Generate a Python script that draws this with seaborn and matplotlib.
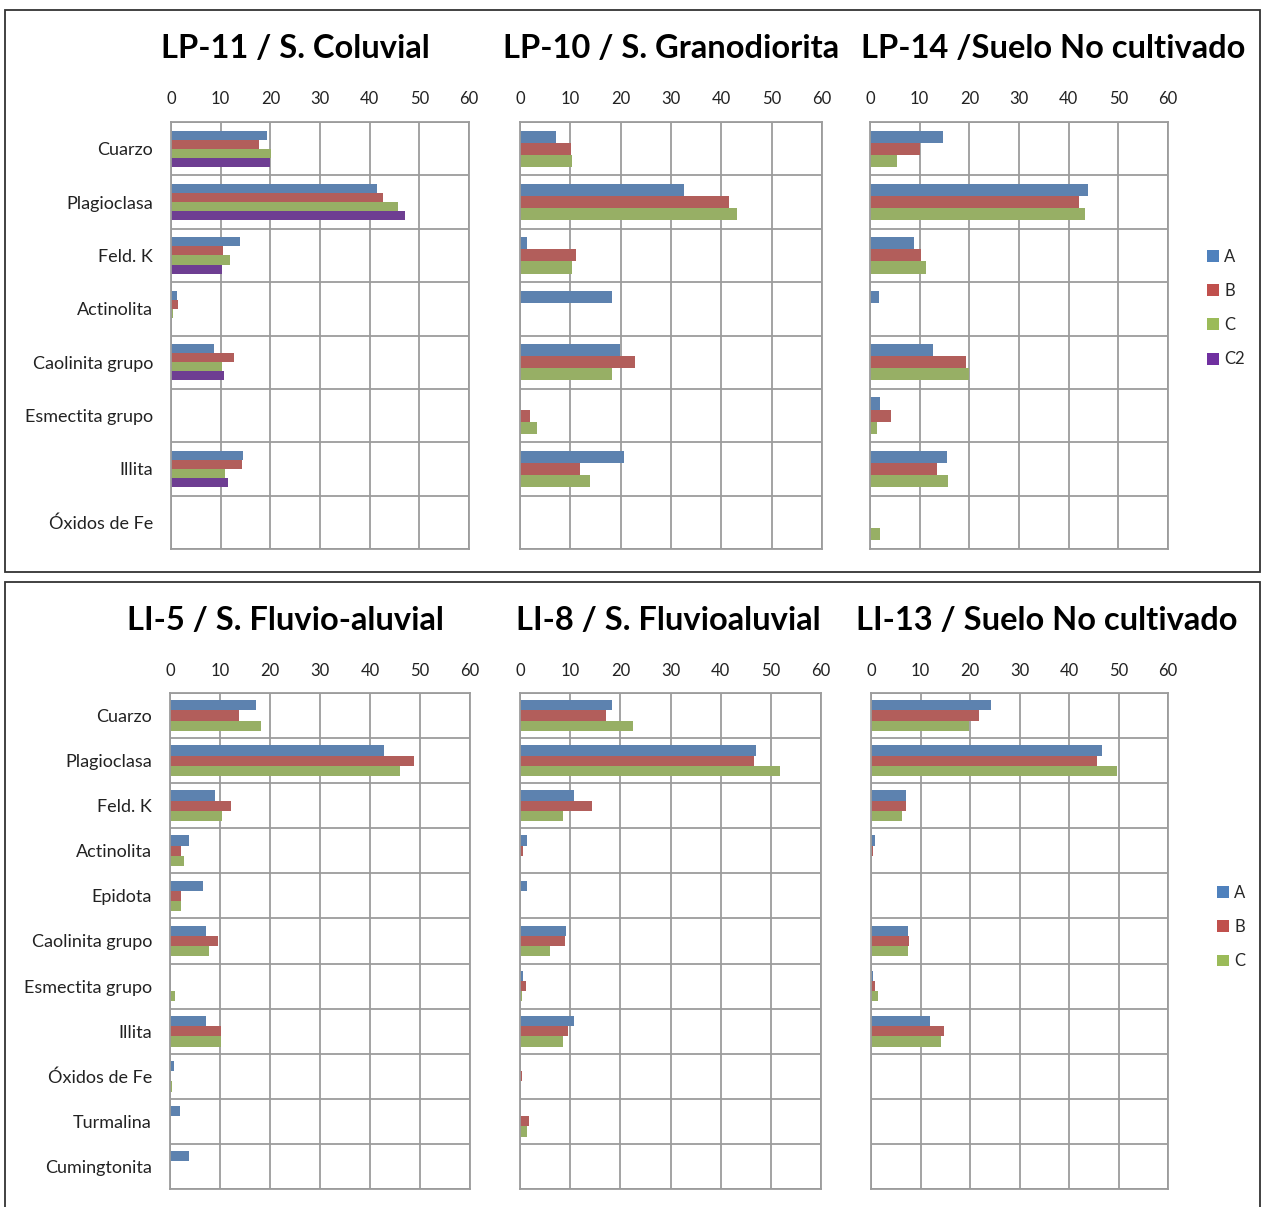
import numpy as np
import pandas as pd
import matplotlib.pyplot as plt
import seaborn as sns
from matplotlib.patches import Patch, Rectangle

# ======================
# Datos (% en peso)
# ======================
minerales_lp = ['Cuarzo', 'Plagioclasa', 'Feld. K', 'Actinolita',
                'Caolinita grupo', 'Esmectita grupo', 'Illita', 'Óxidos de Fe']
minerales_li = ['Cuarzo', 'Plagioclasa', 'Feld. K', 'Actinolita', 'Epidota',
                'Caolinita grupo', 'Esmectita grupo', 'Illita', 'Óxidos de Fe',
                'Turmalina', 'Cumingtonita']

# LP-11 / S. Coluvial
lp11_A = [19.3, 41.5, 13.9, 1.2, 8.7, 0, 14.5, 0]
lp11_B = [17.8, 42.7, 10.5, 1.5, 12.7, 0, 14.2, 0]
lp11_C = [20.2, 45.7, 11.8, 0.5, 10.3, 0, 10.9, 0]
lp11_C2 = [19.9, 47.2, 10.3, 0, 10.6, 0, 11.5, 0]

# LP-10 / S. Granodiorita
lp10_A = [7.1, 32.5, 1.3, 18.3, 19.9, 0, 20.7, 0]
lp10_B = [10.1, 41.6, 11.1, 0, 22.8, 1.9, 11.9, 0]
lp10_C = [10.4, 43.1, 10.4, 0, 18.3, 3.4, 14.0, 0]

# LP-14 / Suelo No cultivado
lp14_A = [14.6, 43.9, 8.8, 1.9, 12.7, 2.1, 15.5, 0]
lp14_B = [10.0, 42.1, 10.3, 0, 19.4, 4.3, 13.4, 0]
lp14_C = [5.5, 43.3, 11.3, 0, 19.9, 1.5, 15.8, 2.1]

# LI-5 / S. Fluvio-aluvial
li5_A = [17.1, 42.7, 8.9, 3.8, 6.5, 7.1, 0, 7.1, 0.7, 1.9, 3.8]
li5_B = [13.7, 48.8, 12.2, 2.2, 2.2, 9.5, 0, 10.1, 0, 0, 0]
li5_C = [18.2, 46.0, 10.4, 2.8, 2.2, 7.7, 1.0, 10.1, 0.4, 0, 0]

# LI-8 / S. Fluvioaluvial
li8_A = [18.3, 47.0, 10.7, 1.3, 1.3, 9.2, 0.5, 10.7, 0, 0, 0]
li8_B = [17.1, 46.7, 14.4, 0.5, 0, 8.9, 1.1, 9.5, 0.4, 1.7, 0]
li8_C = [22.5, 51.8, 8.6, 0, 0, 5.9, 0.4, 8.6, 0, 1.4, 0]

# LI-13 / Suelo No cultivado
li13_A = [24.3, 46.7, 7.1, 0.8, 0, 7.5, 0.4, 11.9, 0, 0, 0]
li13_B = [21.9, 45.7, 7.1, 0.5, 0, 7.7, 0.8, 14.7, 0, 0, 0]
li13_C = [19.8, 49.7, 6.3, 0, 0, 7.5, 1.4, 14.1, 0, 0, 0]

colores = {'A': '#4F81BD', 'B': '#C0504D', 'C': '#9BBB59', 'C2': '#7030A0'}
rejilla = '#9C9C9C'

sns.set_theme(style='white')
plt.rcParams['font.family'] = ['Lato', 'DejaVu Sans']

W, H = 1262, 1207
fig = plt.figure(figsize=(W / 100, H / 100), dpi=100)


def tabla(minerales, series):
    """Convierte las listas de cada horizonte en formato largo"""
    partes = []
    for nombre, valores in series.items():
        partes.append(pd.DataFrame({'mineral': minerales, 'valor': valores,
                                    'horizonte': nombre}))
    return pd.concat(partes, ignore_index=True)


def panel(px, titulo, minerales, series, mostrar_y, tcx, tcy, pad_x):
    x0, y0, x1, y1 = px
    ax = fig.add_axes([x0 / W, 1 - y1 / H, (x1 - x0) / W, (y1 - y0) / H])
    df = tabla(minerales, series)
    orden = list(series.keys())
    sns.barplot(data=df, x='valor', y='mineral', hue='horizonte', orient='h',
                order=minerales, hue_order=orden, width=0.68,
                palette=[colores[h] for h in orden], linewidth=0,
                legend=False, ax=ax)
    n = len(minerales)
    ax.set_xlim(0, 60)
    ax.set_ylim(n - 0.5, -0.5)
    ax.set_xticks(range(0, 61, 10))
    ax.set_yticks(np.arange(n + 1) - 0.5, minor=True)
    ax.xaxis.tick_top()
    ax.tick_params(axis='x', which='both', length=0, labelsize=12, pad=pad_x,
                   labelcolor='#222222')
    ax.tick_params(axis='y', which='both', length=0, labelsize=13, pad=13,
                   labelcolor='#222222')
    ax.grid(True, axis='x', which='major', color=rejilla, linewidth=1.3)
    ax.grid(True, axis='y', which='minor', color=rejilla, linewidth=1.3)
    ax.grid(False, axis='y', which='major')
    ax.set_axisbelow(True)
    for s in ax.spines.values():
        s.set_color(rejilla)
        s.set_linewidth(1.3)
    ax.set_xlabel('')
    ax.set_ylabel('')
    if not mostrar_y:
        ax.set_yticklabels([])
    fig.text(tcx / W, 1 - tcy / H, titulo, ha='center', va='center',
             fontsize=23.5, fontweight='bold', color='black')
    return ax


# ======================
# Paneles superiores (LP)
# ======================
panel((171, 122, 469, 549), 'LP-11 / S. Coluvial', minerales_lp,
      {'A': lp11_A, 'B': lp11_B, 'C': lp11_C, 'C2': lp11_C2}, True, 295, 49, 11)
panel((520, 122, 822, 549), 'LP-10 / S. Granodiorita', minerales_lp,
      {'A': lp10_A, 'B': lp10_B, 'C': lp10_C}, False, 671, 49, 11)
panel((870, 122, 1168, 549), 'LP-14 /Suelo No cultivado', minerales_lp,
      {'A': lp14_A, 'B': lp14_B, 'C': lp14_C}, False, 1053, 49, 11)

# ======================
# Paneles inferiores (LI)
# ======================
panel((170, 693, 470, 1189), 'LI-5 / S. Fluvio-aluvial', minerales_li,
      {'A': li5_A, 'B': li5_B, 'C': li5_C}, True, 285, 621, 10)
panel((520, 693, 821, 1189), 'LI-8 / S. Fluvioaluvial', minerales_li,
      {'A': li8_A, 'B': li8_B, 'C': li8_C}, False, 668, 621, 10)
panel((871, 693, 1168, 1189), 'LI-13 / Suelo No cultivado', minerales_li,
      {'A': li13_A, 'B': li13_B, 'C': li13_C}, False, 1047, 621, 10)

# Leyendas
def leyenda(etiquetas, x, y):
    manejos = [Patch(facecolor=colores[e], edgecolor='none') for e in etiquetas]
    fig.legend(manejos, etiquetas, loc='center left',
               bbox_to_anchor=(x / W, 1 - y / H), frameon=False, fontsize=12,
               handlelength=0.7, handleheight=0.7, handletextpad=0.3,
               labelspacing=1.1, borderpad=0)

leyenda(['A', 'B', 'C', 'C2'], 1199, 308)
leyenda(['A', 'B', 'C'], 1209, 927)

# Marcos de cada bloque
fig.patches.append(Rectangle((5 / W, 1 - 572 / H), 1255 / W, 562 / H,
                             transform=fig.transFigure, fill=False,
                             edgecolor='#333333', linewidth=1.3))
fig.patches.append(Rectangle((5 / W, 1 - 1215 / H), 1255 / W, 633 / H,
                             transform=fig.transFigure, fill=False,
                             edgecolor='#333333', linewidth=1.3))

fig.savefig('out.png', dpi=100)
